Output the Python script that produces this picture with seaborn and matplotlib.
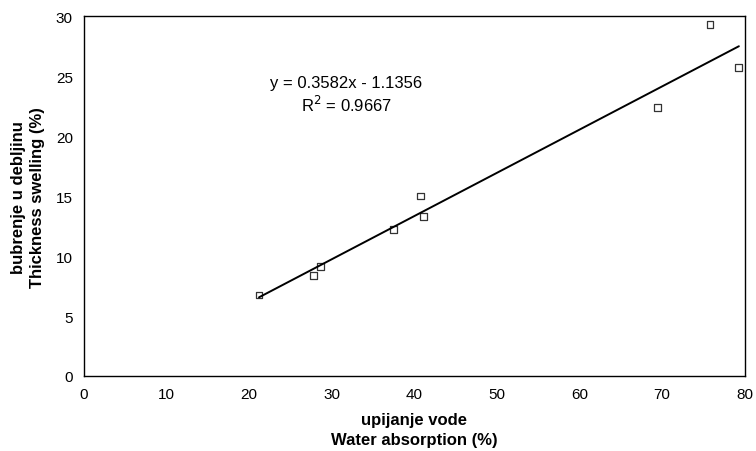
import matplotlib
matplotlib.use("Agg")
import matplotlib.pyplot as plt
import seaborn as sns
import pandas as pd

# podaci očitani s grafa
water_absorption = [21.2, 27.8, 28.6, 37.5, 40.8, 41.1, 69.4, 75.8, 79.3]
thickness_swelling = [6.75, 8.4, 9.1, 12.2, 15.0, 13.3, 22.4, 29.3, 25.7]
x_ticks = [0, 10, 20, 30, 40, 50, 60, 70, 80]
y_ticks = [0, 5, 10, 15, 20, 25, 30]

df = pd.DataFrame({"wa": water_absorption, "ts": thickness_swelling})

sns.set_style("white")
plt.rcParams['font.family'] = ['Liberation Sans', 'DejaVu Sans']
plt.rcParams['text.color'] = 'black'
plt.rcParams['axes.labelcolor'] = 'black'

fig = plt.figure(figsize=(7.56, 4.52), dpi=100)
ax = fig.add_axes([0.111, 0.166, 0.874, 0.796])

sns.regplot(data=df, x="wa", y="ts", ax=ax, ci=None, color="black",
            marker="s",
            scatter_kws=dict(s=24, facecolors="none", edgecolors="black",
                             linewidths=0.9),
            line_kws=dict(lw=1.4))

ax.set_xlim(0, 80)
ax.set_ylim(0, 30)
ax.set_xticks(x_ticks)
ax.set_yticks(y_ticks)
ax.tick_params(direction="inout", length=6, width=0.8, labelsize=11,
               colors="black", pad=5)
for s in ax.spines.values():
    s.set_color("black")
    s.set_linewidth(1.0)

ax.set_xlabel("upijanje vode\nWater absorption (%)", fontsize=12,
              fontweight="bold", labelpad=8, linespacing=1.4)
ax.set_ylabel("bubrenje u debljinu\nThickness swelling (%)", fontsize=12,
              fontweight="bold", labelpad=8, linespacing=1.3)

ax.text(31.8, 24.5, "y = 0.3582x - 1.1356", ha="center", va="center",
        fontsize=12)
ax.text(31.8, 22.7, "R$^2$ = 0.9667", ha="center", va="center", fontsize=12)

fig.savefig("out.png", dpi=100)
